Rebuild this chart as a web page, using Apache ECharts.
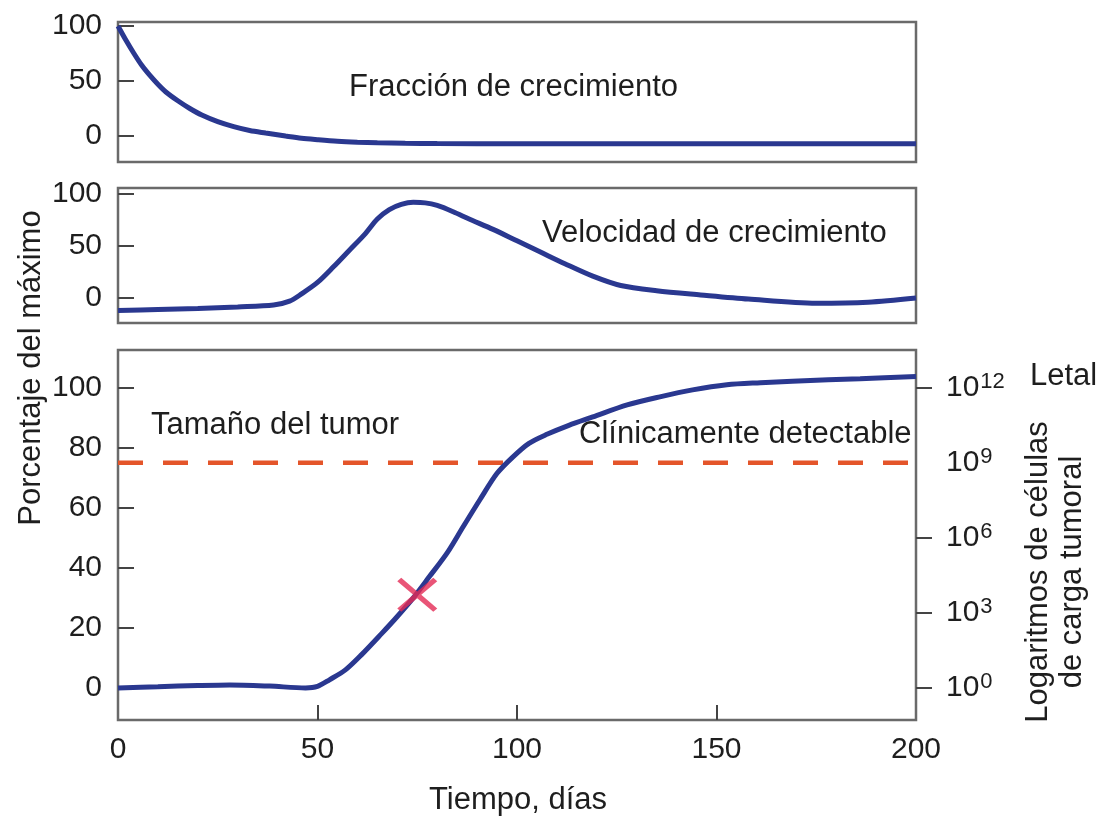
<!DOCTYPE html>
<html><head><meta charset="utf-8">
<script src="https://cdn.jsdelivr.net/npm/echarts@6/dist/echarts.min.js"></script>
<style>html,body{margin:0;padding:0;background:#fff}#c{width:1105px;height:817px}</style>
</head><body><div id="c"></div>
<script>
// ---- data ----
const fractionDays   = [0, 2, 4, 6, 8, 10, 12, 15, 18, 21, 25, 29, 33, 37, 42, 46, 50, 55, 60, 65, 72, 80, 100, 130, 160, 200];
const fractionValues = [100, 87, 75, 64, 55, 47, 40, 32, 25, 19, 13, 8.5, 5, 2.7, 0, -2, -3.3, -4.7, -5.6, -6.2, -6.6, -6.9, -7, -7, -7, -7];

const velocityDays   = [0, 10, 20, 30, 39, 43, 46, 50, 54, 58, 62, 65, 68, 71, 74, 77, 80, 84, 88, 94, 100, 106, 112, 119, 126, 135, 146, 158, 175, 188, 200];
const velocityValues = [-12, -11, -10, -8.5, -6.7, -3, 4, 15, 30, 46, 62, 76, 85, 90, 92, 91.5, 89, 83, 76, 66, 55, 44, 33, 21, 12, 7, 3, -1, -5, -4, 0];

const tumorDays   = [0, 10, 20, 28, 38, 47, 50, 53, 57, 61, 66, 70, 74, 78, 82.5, 86.5, 90.7, 95, 99, 103, 107.5, 113, 119, 127.6, 135.8, 144, 152.6, 161, 169, 178, 186, 200];
const tumorValues = [0, 0.4, 0.8, 1, 0.6, 0, 0.5, 2.7, 6, 11, 18, 23.8, 30, 37, 45, 53.7, 62.7, 71.5, 77, 81.5, 84.5, 87.5, 90.3, 94.3, 97, 99.3, 101, 101.7, 102.2, 102.7, 103, 103.8];

const detectableLevel = 75;
const markerPoint = [75, 31];

const xTickLabels = [0, 50, 100, 150, 200];
const xTickMarks = [50, 100, 150];
const smallPanelTicks = [0, 50, 100];
const tumorPercentTicks = [0, 20, 40, 60, 80, 100];
const logTickPositions = [0, 25, 50, 75, 100];
const logTickExponents = [0, 3, 6, 9, 12];
const logTickMarks = [0, 25, 50, 100];

const texts = {
  fraction: 'Fracción de crecimiento',
  velocity: 'Velocidad de crecimiento',
  tumor: 'Tamaño del tumor',
  detectable: 'Clínicamente detectable',
  lethal: 'Letal',
  xTitle: 'Tiempo, días',
  yLeft: 'Porcentaje del máximo',
  yRight: 'Logaritmos de células\nde carga tumoral'
};

// ---- chart ----
const FONT = '"Liberation Sans", Arial, sans-serif';
const TXT = '#1e1e1e';
const BLUE = '#2a3890';
const TFONT = '31px ' + FONT;
const pairs = (xs, ys) => xs.map((x, i) => [x, ys[i]]);

const gridBase = {left: 118, right: 189, show: true, borderColor: '#6a6a6a', borderWidth: 2.5, backgroundColor: 'transparent'};

function xAx(i, withLabels) {
  return {
    type: 'value', gridIndex: i, min: 0, max: 200,
    axisLine: {show: false, onZero: false}, splitLine: {show: false},
    axisTick: {show: withLabels, inside: true, length: 15, customValues: xTickMarks, lineStyle: {color: '#444', width: 2}},
    axisLabel: {show: withLabels, customValues: xTickLabels, fontSize: 30, fontFamily: FONT, color: TXT, margin: 15}
  };
}
function yAx(i, min, max, ticks) {
  return {
    type: 'value', gridIndex: i, min: min, max: max,
    axisLine: {show: false, onZero: false}, splitLine: {show: false},
    axisTick: {show: true, inside: true, length: 16, customValues: ticks, lineStyle: {color: '#444', width: 2}},
    axisLabel: {customValues: ticks, fontSize: 30, fontFamily: FONT, color: TXT, margin: 16}
  };
}
const lineCommon = {smooth: 0.3, showSymbol: false, lineStyle: {color: BLUE, width: 5}};

const option = {
  animation: false,
  backgroundColor: '#fff',
  grid: [
    Object.assign({top: 22, height: 140}, gridBase),
    Object.assign({top: 188, height: 135}, gridBase),
    Object.assign({top: 350, height: 370}, gridBase)
  ],
  xAxis: [xAx(0, false), xAx(1, false), xAx(2, true)],
  yAxis: [
    yAx(0, -23.6, 103.6, smallPanelTicks),
    yAx(1, -24, 105.8, smallPanelTicks),
    yAx(2, -10.7, 112.6, tumorPercentTicks),
    {
      type: 'value', gridIndex: 2, position: 'right', min: -10.7, max: 112.6,
      axisLine: {show: false, onZero: false}, splitLine: {show: false},
      axisTick: {show: true, inside: false, length: 16, customValues: logTickMarks, lineStyle: {color: '#444', width: 2}},
      axisLabel: {
        customValues: logTickPositions, margin: 30, align: 'left',
        formatter: v => '{b|10}{s|' + logTickExponents[logTickPositions.indexOf(v)] + '}',
        rich: {
          b: {fontSize: 30, fontFamily: FONT, color: TXT, lineHeight: 34},
          s: {fontSize: 22, fontFamily: FONT, color: TXT, verticalAlign: 'top', lineHeight: 16, padding: [0, 0, 0, 1]}
        }
      }
    }
  ],
  series: [
    Object.assign({type: 'line', xAxisIndex: 0, yAxisIndex: 0, data: pairs(fractionDays, fractionValues)}, lineCommon),
    Object.assign({type: 'line', xAxisIndex: 1, yAxisIndex: 1, data: pairs(velocityDays, velocityValues)}, lineCommon),
    {type: 'line', xAxisIndex: 2, yAxisIndex: 2, data: [[0, detectableLevel], [200, detectableLevel]], showSymbol: false, lineStyle: {color: '#e4552a', width: 4.5, type: [25, 20]}},
    Object.assign({type: 'line', xAxisIndex: 2, yAxisIndex: 2, data: pairs(tumorDays, tumorValues)}, lineCommon),
    {type: 'scatter', xAxisIndex: 2, yAxisIndex: 2, data: [markerPoint], symbol: 'path://M0,0.1 L0.1,0 L0.5,0.4 L0.9,0 L1,0.1 L0.6,0.5 L1,0.9 L0.9,1 L0.5,0.6 L0.1,1 L0,0.9 L0.4,0.5 Z', symbolSize: [40, 34], itemStyle: {color: '#e32a55'}, z: 5}
  ],
  graphic: [
    {type: 'text', left: 349, top: 72, style: {text: texts.fraction, font: TFONT, fill: TXT}},
    {type: 'text', left: 542, top: 218, style: {text: texts.velocity, font: TFONT, fill: TXT}},
    {type: 'text', left: 151, top: 410, style: {text: texts.tumor, font: TFONT, fill: TXT}},
    {type: 'text', left: 579, top: 419, style: {text: texts.detectable, font: TFONT, fill: TXT}},
    {type: 'text', left: 1030, top: 361, style: {text: texts.lethal, font: TFONT, fill: TXT}},
    {type: 'text', x: 518, y: 800, style: {text: texts.xTitle, font: TFONT, fill: TXT, align: 'center', verticalAlign: 'middle'}},
    {type: 'text', x: 31, y: 368, rotation: Math.PI / 2, style: {text: texts.yLeft, font: TFONT, fill: TXT, align: 'center', verticalAlign: 'middle'}},
    {type: 'text', x: 1055, y: 572, rotation: Math.PI / 2, style: {text: texts.yRight, font: TFONT, fill: TXT, align: 'center', verticalAlign: 'middle', lineHeight: 34}}
  ]
};

const chart = echarts.init(document.getElementById('c'), null, {renderer: 'canvas'});
chart.setOption(option);
</script>
</body></html>
